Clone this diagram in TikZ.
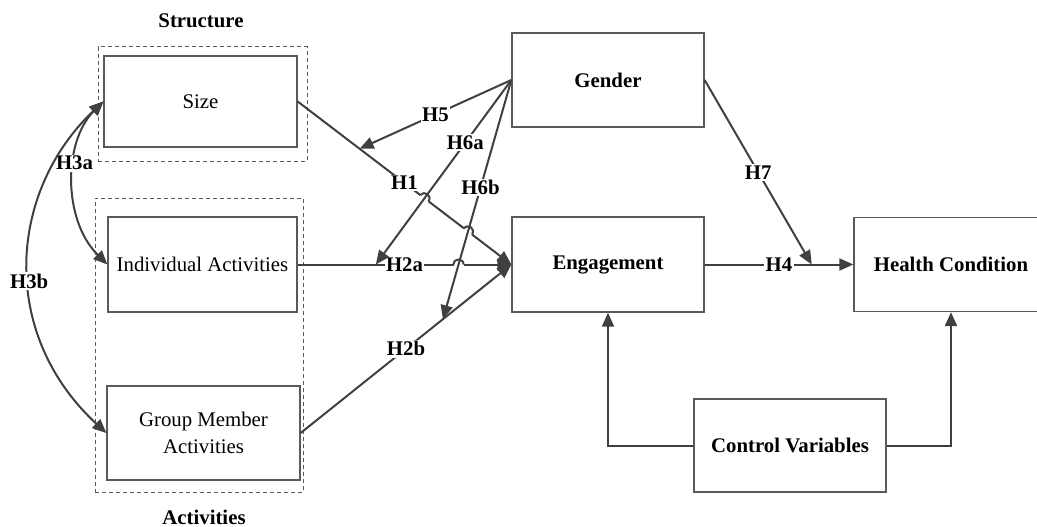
\documentclass[tikz,border=0pt]{standalone}
\usepackage{fontspec}
\setmainfont{Liberation Serif}
\usetikzlibrary{arrows.meta,calc,intersections}

\definecolor{boxline}{HTML}{5A5A5A}
\definecolor{arrowline}{HTML}{404040}
\newcommand\diagsize{\fontsize{20.8pt}{26.5pt}\selectfont}

% open a short gap in a connector at crossing point #1 (line runs #2 -> #3)
\newcommand\jumpgap[3]{%
  \draw[white, line width=4pt] ($(#1)!5pt!(#2)$) -- ($(#1)!5pt!(#3)$);}
% bridge that gap with a small half-circle hop
\newcommand\jumparc[3]{%
  \coordinate (ja) at ($(#1)!5pt!(#2)$);
  \coordinate (jb) at ($(#1)!5pt!(#3)$);
  \draw[arrowline, line width=2pt]
    (ja) .. controls ($(ja)!6.67pt!90:(#1)$) and ($(jb)!6.67pt!-90:(#1)$) .. (jb);}

\tikzset{
  every node/.style={font=\diagsize},
  box/.style={draw=boxline, line width=1.3pt, inner sep=0pt},
  groupframe/.style={draw=boxline, line width=1pt, dash pattern=on 4pt off 3pt, inner sep=0pt},
  conn/.style={draw=arrowline, line width=2pt, -{Triangle[length=14pt,width=12pt]}},
  biconn/.style={draw=arrowline, line width=2pt, {Triangle[length=14pt,width=12pt]}-{Triangle[length=14pt,width=12pt]}},
  lbl/.style={font=\diagsize\bfseries, fill=white, inner sep=1.5pt, text=black},
  heading/.style={font=\diagsize\bfseries},
}

\begin{document}
\begin{tikzpicture}[x=1pt, y=1pt]
\useasboundingbox (0,0) rectangle (1037,-527);
\clip (0,0) rectangle (1037,-527);

% grouping frames and their titles
\node[groupframe, minimum width=209pt, minimum height=114pt] (structure) at (202.5,-104) {};
\node[groupframe, minimum width=208pt, minimum height=294pt] (activities) at (199,-345) {};
\node[heading] (structlbl) at (201,-21) {Structure};
\node[heading] (actlbl) at (204,-517) {Activities};

% constructs
\node[box, minimum width=193pt, minimum height=91pt] (size) at (200.5,-101.5) {Size};
\node[box, minimum width=189pt, minimum height=95pt] (ind) at (202.5,-264.5) {Individual Activities};
\node[box, minimum width=193pt, minimum height=94pt, align=center] (grp) at (203.5,-433) {Group Member\\Activities};
\node[box, minimum width=192pt, minimum height=94pt, font=\diagsize\bfseries] (gen) at (608,-80) {Gender};
\node[box, minimum width=192pt, minimum height=95pt, font=\diagsize\bfseries] (eng) at (608,-264.5) {Engagement};
\node[box, minimum width=194pt, minimum height=94pt, font=\diagsize\bfseries] (hc) at (951,-264.5) {Health Condition};
\node[box, minimum width=192pt, minimum height=93pt, font=\diagsize\bfseries] (ctl) at (790,-445.5) {Control Variables};

% points on the main paths where the moderating effects land
\coordinate (m5)  at ($(size.east)!0.29!(eng.west)$);
\coordinate (m6a) at ($(ind.east)!0.366!(eng.west)$);
\coordinate (m6b) at ($(grp.east)!0.675!(eng.west)$);
\coordinate (m7)  at ($(eng.east)!0.72!(hc.west)$);

% main effects
\draw[conn, name path=h1]  (size.east) -- node[lbl] {H1} (eng.west);
\draw[conn, name path=h2a] (ind.east) -- node[lbl] {H2a} (eng.west);
\draw[conn] (grp.east) -- node[lbl] {H2b} (eng.west);
\draw[conn] (eng.east) -- node[lbl] {H4} (hc.west);

% correlations among the antecedents
\draw[biconn] (size.west) .. controls +(-40,-40) and +(-45,45) .. node[lbl, pos=0.4] {H3a} (ind.west);
\draw[biconn] (size.west) .. controls +(-95,-90) and +(-108,100) .. node[lbl, pos=0.55] {H3b} (grp.west);

% control variables
\draw[conn] (ctl.west) -| (eng.south);
\draw[conn] (ctl.east) -| (hc.south);

% moderation by gender
\draw[conn] (gen.west) -- node[lbl] {H5} (m5);
\path[name path=h6a] (gen.west) -- (m6a);
\path[name path=h6b] (gen.west) -- (m6b);
\path[name intersections={of=h1 and h6a, by=xa}];
\path[name intersections={of=h1 and h6b, by=xb}];
\path[name intersections={of=h2a and h6b, by=xc}];
\jumpgap{xa}{size.east}{eng.west}
\jumpgap{xb}{size.east}{eng.west}
\jumpgap{xc}{ind.east}{eng.west}
\draw[conn] (gen.west) -- node[lbl, pos=0.34] {H6a} (m6a);
\draw[conn] (gen.west) -- node[lbl, pos=0.45] {H6b} (m6b);
\jumparc{xa}{size.east}{eng.west}
\jumparc{xb}{size.east}{eng.west}
\jumparc{xc}{ind.east}{eng.west}
\draw[conn] (gen.east) -- node[lbl] {H7} (m7);
\end{tikzpicture}
\end{document}
